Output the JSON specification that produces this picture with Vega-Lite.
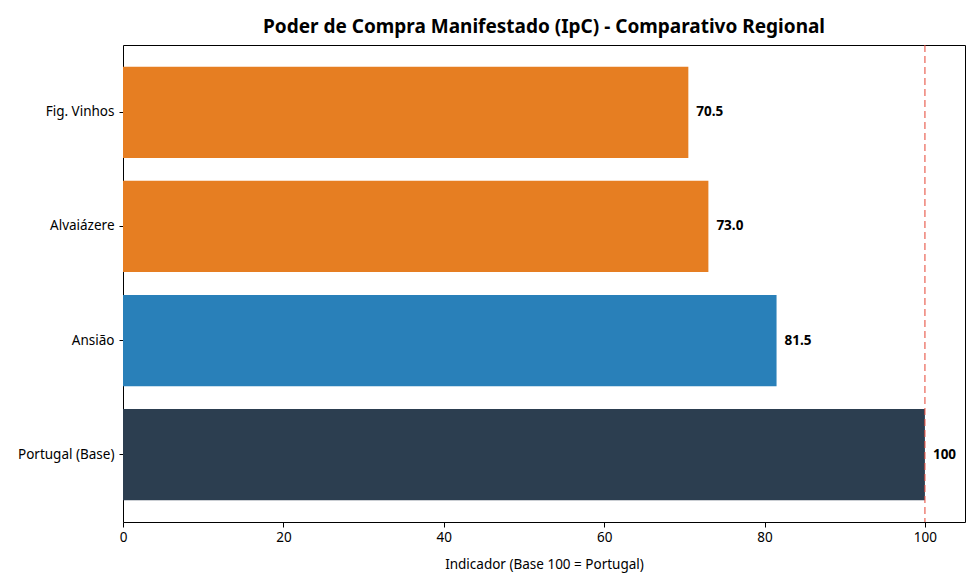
{
  "$schema": "https://vega.github.io/schema/vega-lite/v6.json",
  "autosize": "none",
  "padding": {"left": 123, "top": 45, "right": 15, "bottom": 66},
  "width": 842,
  "height": 477,
  "title": {
    "text": "Poder de Compra Manifestado (IpC) - Comparativo Regional",
    "fontSize": 19,
    "fontWeight": "bold",
    "font": "Noto Sans",
    "color": "#000000",
    "offset": 7
  },
  "data": {
    "values": [
      {"regiao": "Fig. Vinhos", "ipc": 70.5, "label": "70.5", "grupo": "Vizinho"},
      {"regiao": "Alvaiázere", "ipc": 73.0, "label": "73.0", "grupo": "Vizinho"},
      {"regiao": "Ansião", "ipc": 81.5, "label": "81.5", "grupo": "Ansião"},
      {"regiao": "Portugal (Base)", "ipc": 100, "label": "100", "grupo": "Portugal"}
    ]
  },
  "layer": [
    {
      "mark": {"type": "bar"},
      "encoding": {
        "y": {
          "field": "regiao",
          "type": "nominal",
          "sort": null,
          "title": null,
          "scale": {"paddingInner": 0.2, "paddingOuter": 0.19},
          "axis": {"labelFontSize": 13.5, "labelFont": "Noto Sans", "labelColor": "#000", "tickColor": "#000", "tickSize": 4, "labelPadding": 5, "domain": false}
        },
        "x": {
          "field": "ipc",
          "type": "quantitative",
          "scale": {"domain": [0, 105], "nice": false},
          "title": "Indicador (Base 100 = Portugal)",
          "axis": {
            "values": [0, 20, 40, 60, 80, 100],
            "grid": false,
            "domain": false,
            "labelFlush": false,
            "labelFontSize": 13.5,
            "labelFont": "Noto Sans",
            "labelColor": "#000",
            "tickColor": "#000",
            "tickSize": 5,
            "labelPadding": 3,
            "titleFontSize": 13.5,
            "titleFont": "Noto Sans",
            "titleFontWeight": "normal",
            "titleColor": "#000",
            "titlePadding": 14
          }
        },
        "color": {
          "field": "grupo",
          "type": "nominal",
          "scale": {"domain": ["Vizinho", "Ansião", "Portugal"], "range": ["#e67e22", "#2980b9", "#2c3e50"]},
          "legend": null
        }
      }
    },
    {
      "mark": {"type": "text", "align": "left", "baseline": "middle", "dx": 8, "fontWeight": "bold", "fontSize": 13.5, "font": "Noto Sans", "color": "#000"},
      "encoding": {
        "y": {"field": "regiao", "type": "nominal", "sort": null},
        "x": {"field": "ipc", "type": "quantitative"},
        "text": {"field": "label"}
      }
    },
    {
      "data": {"values": [{"ref": 100}]},
      "mark": {"type": "rule", "color": "#e74c3c", "opacity": 0.7, "strokeDash": [7, 4], "strokeWidth": 1.5},
      "encoding": {"x": {"field": "ref", "type": "quantitative"}}
    }
  ],
  "config": {
    "view": {"stroke": "#000", "strokeWidth": 1},
    "background": "#ffffff"
  }
}
